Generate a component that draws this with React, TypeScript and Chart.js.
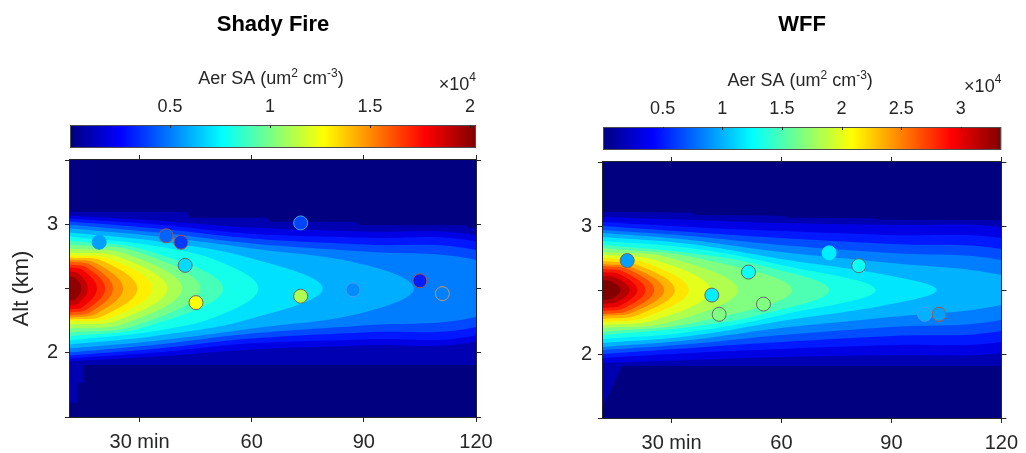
import React, { useEffect, useRef } from 'react';
import { Chart, registerables } from 'chart.js';
Chart.register(...registerables);

// ---------------- shared axis data ----------------
const timeTicks = [30, 60, 90, 120];
const timeTickLabels = ['30 min', '60', '90', '120'];
const altTicks = [1.5, 2, 2.5, 3, 3.5];
const altTickLabels = ['', '2', '', '3', ''];
const altMin = 1.5;
const altMax = 3.5;
const timeMax = 120;

// ---------------- Shady Fire ----------------
const shadyTitle = 'Shady Fire';
const shadyTimeMin = 11.4;
const shadyColorMax = 2.03; // x10^4
const shadyColorTicks = [0.5, 1, 1.5, 2];
const shadyPlumeCenter = 2.5;
const shadyLevels = [0.1, 0.2, 0.3, 0.4, 0.5, 0.6, 0.7, 0.8, 0.9, 1.0, 1.1, 1.2, 1.3, 1.4, 1.5, 1.6, 1.7, 1.8, 1.9, 2.0];
// per contour level: times (min) and half-thickness (km) of the contour above the plume axis, and its tip time
const shadyContourTimes = [
  null,
  [11.4, 35, 60, 90, 120], [11.4, 35, 60, 90, 120], [11.4, 35, 60, 90, 120], [11.4, 35, 60, 90, 120],
  [11.4, 35, 60, 90], [11.4, 35, 60], [11.4, 35, 52], [11.4, 32], [11.4, 29], [11.4, 26.4],
  [11.4, 24.4], [11.4, 22.4], [11.4, 20.4], [11.4, 18.5], [11.4, 17.2], [11.4, 16.1], [11.4, 15], [11.4, 13.8], [11.4, 13],
];
const shadyContourHalf = [
  null,
  [0.567, 0.528, 0.474, 0.443, 0.412], [0.544, 0.497, 0.427, 0.396, 0.365], [0.521, 0.466, 0.389, 0.342, 0.299], [0.497, 0.435, 0.35, 0.287, 0.221],
  [0.466, 0.404, 0.311, 0.186], [0.435, 0.365, 0.233], [0.404, 0.326, 0.202], [0.373, 0.295], [0.342, 0.287], [0.311, 0.268],
  [0.28, 0.245], [0.256, 0.225], [0.241, 0.21], [0.225, 0.194], [0.21, 0.179], [0.186, 0.159], [0.163, 0.14], [0.132, 0.113], [0.093, 0.078],
];
const shadyTipTime = [null, 170, 160, 145, 135, 103.4, 79.0, 61.8, 52.4, 46.3, 41.4, 37.4, 33.4, 29.4, 25.6, 22.9, 20.8, 18.6, 16.2, 14.5];
const shadyEnvTopTime = [11.4, 42.5, 43.5, 64, 65, 88, 89, 117, 118, 122];
const shadyEnvTopAlt = [3.097, 3.097, 3.05, 3.05, 3.02, 3.02, 2.993, 2.993, 2.975, 2.975];
const shadyEnvBotTime = [122, 15.0, 15.0, 13.3, 13.3, 11.4];
const shadyEnvBotAlt = [1.904, 1.904, 1.765, 1.765, 1.61, 1.61];
const shadyObsTime = [19.2, 37.1, 41.1, 42.2, 45.1, 73.1, 73.1, 87.1, 105.0, 111.0];
const shadyObsAlt = [2.86, 2.91, 2.86, 2.68, 2.39, 3.01, 2.44, 2.49, 2.56, 2.46];
const shadyObsSA = [0.57, 0.45, 0.37, 0.69, 1.26, 0.39, 1.11, 0.53, 0.31, 0.51];
const shadyObsGroup = [0, 1, 1, 2, 2, 3, 2, 3, 1, 4];

// ---------------- WFF ----------------
const wffTitle = 'WFF';
const wffTimeMin = 11.3;
const wffColorMax = 3.34; // x10^4
const wffColorTicks = [0.5, 1, 1.5, 2, 2.5, 3];
const wffPlumeCenter = 2.5;
const wffLevels = [0.17, 0.33, 0.5, 0.67, 0.83, 1.0, 1.17, 1.33, 1.5, 1.67, 1.83, 2.0, 2.17, 2.33, 2.5, 2.67, 2.83, 3.0, 3.17, 3.33];
const wffContourTimes = [
  null,
  [11.3, 35, 60, 90, 120], [11.3, 35, 60, 90, 120], [11.3, 35, 60, 90, 120], [11.3, 35, 60, 90, 120],
  [11.3, 35, 60, 90, 120], [11.3, 35, 60, 90], [11.3, 35, 60], [11.3, 35, 55], [11.3, 37], [11.3, 29.7],
  [11.3, 26], [11.3, 23], [11.3, 21.1], [11.3, 19.7], [11.3, 18.3], [11.3, 17.1], [11.3, 16], [11.3, 15], [11.3, 13.7],
];
const wffContourHalf = [
  null,
  [0.57, 0.547, 0.523, 0.508, 0.492], [0.531, 0.492, 0.461, 0.43, 0.406], [0.5, 0.453, 0.406, 0.359, 0.32], [0.469, 0.422, 0.352, 0.289, 0.234],
  [0.445, 0.391, 0.297, 0.211, 0.117], [0.414, 0.359, 0.242, 0.109], [0.383, 0.328, 0.195], [0.352, 0.289, 0.188], [0.328, 0.25], [0.297, 0.25],
  [0.273, 0.23], [0.25, 0.211], [0.227, 0.191], [0.203, 0.172], [0.188, 0.16], [0.164, 0.141], [0.141, 0.121], [0.109, 0.094], [0.078, 0.066],
];
const wffTipTime = [null, 250, 200, 165, 145, 126, 102.4, 85.7, 73.1, 62.9, 48.1, 40.6, 34.7, 30.9, 28.0, 25.3, 22.9, 20.7, 18.6, 16.1];
const wffEnvTopTime = [11.3, 35, 37, 60, 62, 85, 87, 122];
const wffEnvTopAlt = [3.11, 3.105, 3.085, 3.08, 3.065, 3.06, 3.048, 3.045];
const wffEnvBotTime = [122, 16.4, 11.3];
const wffEnvBotAlt = [1.906, 1.906, 1.59];
const wffObsTime = [17.9, 41.0, 43.0, 51.0, 55.1, 73.0, 81.1, 99.1, 103.0];
const wffObsAlt = [2.73, 2.46, 2.31, 2.64, 2.39, 2.79, 2.69, 2.31, 2.31];
const wffObsSA = [0.94, 1.2, 1.67, 1.29, 1.67, 1.2, 1.29, 1.0, 0.94];
const wffObsGroup = [2, 2, 2, 2, 2, 0, 2, 3, 1];

// ---------------- styles ----------------
const INK = '#262626';
const FONT = "'Liberation Sans', Arial, Helvetica, sans-serif";
const edgePalette = ['', 'rgb(176,84,60)', 'rgb(105,105,105)', 'rgb(70,160,235)', 'rgb(205,150,95)'];

function clamp01(v: number) { return Math.max(0, Math.min(1, v)); }
function jetRGB(v: number): [number, number, number] {
  v = clamp01(v);
  const r = clamp01(1.5 - Math.abs(4 * v - 3));
  const g = clamp01(1.5 - Math.abs(4 * v - 2));
  const b = clamp01(1.5 - Math.abs(4 * v - 1));
  return [Math.round(r * 255), Math.round(g * 255), Math.round(b * 255)];
}
function jet(v: number) { const [r, g, b] = jetRGB(v); return `rgb(${r},${g},${b})`; }

type PanelCfg = {
  title: string; timeMin: number; cmax: number; cbTicks: number[]; center: number;
  levels: number[]; cTimes: (number[] | null)[]; cHalf: (number[] | null)[]; tips: (number | null)[];
  envTopT: number[]; envTopA: number[]; envBotT: number[]; envBotA: number[];
  obsT: number[]; obsA: number[]; obsV: number[]; obsG: number[];
  left: number; yW: number; y2W: number; botH: number; areaTop: number; showYTitle: boolean; tickPad: number;
};

const TITLE_H = 46.4; // 12 + 26.4 + 8
const X2_H = 7;

function buildConfig(p: PanelCfg): any {
  const datasets: any[] = [];
  const env = [
    ...p.envTopT.map((t, i) => ({ x: t, y: p.envTopA[i] })),
    ...p.envBotT.map((t, i) => ({ x: t, y: p.envBotA[i] })),
  ];
  datasets.push({
    type: 'line', data: env, fill: 'shape', backgroundColor: jet(p.levels[0] / p.cmax),
    borderWidth: 0, borderColor: 'rgba(0,0,0,0)', pointRadius: 0, tension: 0, order: 1000,
  });
  for (let k = 1; k < p.levels.length; k++) {
    const ts = p.cTimes[k] as number[];
    const hs = p.cHalf[k] as number[];
    const upper = ts.map((t, i) => ({ x: t, y: p.center + hs[i] }));
    const lower = ts.map((t, i) => ({ x: t, y: p.center - hs[i] })).reverse();
    datasets.push({
      type: 'line',
      data: [...upper, { x: p.tips[k] as number, y: p.center }, ...lower],
      fill: 'shape', backgroundColor: jet(p.levels[k] / p.cmax),
      borderWidth: 0, borderColor: 'rgba(0,0,0,0)', pointRadius: 0, tension: 0.4, order: 1000 - k,
    });
  }
  const fills = p.obsV.map(v => jet(v / p.cmax));
  datasets.push({
    type: 'scatter',
    data: p.obsT.map((t, i) => ({ x: t, y: p.obsA[i] })),
    pointRadius: 7, pointHoverRadius: 7,
    pointBackgroundColor: fills,
    pointBorderColor: p.obsG.map((g, i) => (g === 0 ? fills[i] : edgePalette[g])),
    pointBorderWidth: 1, order: 0,
  });

  const grid = { display: true, drawOnChartArea: false, drawTicks: true, tickLength: 5, color: INK, lineWidth: 1 };
  const cbH = p.areaTop - X2_H - TITLE_H;

  const bgPlugin = {
    id: 'navyBg',
    beforeDatasetsDraw(chart: any) {
      const { ctx, chartArea: a } = chart;
      ctx.save();
      ctx.fillStyle = jet(0);
      ctx.fillRect(a.left, a.top, a.right - a.left, a.bottom - a.top);
      ctx.restore();
    },
  };
  const boxPlugin = {
    id: 'boxFrame',
    afterDatasetsDraw(chart: any) {
      const { ctx, chartArea: a } = chart;
      ctx.save();
      ctx.strokeStyle = INK; ctx.lineWidth = 1;
      ctx.strokeRect(Math.round(a.left) - 0.5, Math.round(a.top) - 0.5, Math.round(a.right - a.left) + 1, Math.round(a.bottom - a.top) + 1);
      ctx.restore();
    },
  };
  const cbPlugin = {
    id: 'colorbar',
    afterDraw(chart: any) {
      const { ctx } = chart;
      const cb = chart.scales.cb;
      const x0 = cb.getPixelForValue(0);
      const x1 = cb.getPixelForValue(p.cmax);
      const yb = cb.bottom - 5;
      const yt = yb - 23;
      ctx.save();
      const grad = ctx.createLinearGradient(x0, 0, x1, 0);
      [0, 0.125, 0.375, 0.625, 0.875, 1].forEach(s => grad.addColorStop(s, jet(s)));
      ctx.fillStyle = grad;
      ctx.fillRect(x0, yt, x1 - x0, yb - yt);
      ctx.strokeStyle = '#4d4d4d'; ctx.lineWidth = 1;
      ctx.strokeRect(Math.round(x0) + 0.5, Math.round(yt) + 0.5, Math.round(x1 - x0) - 1, Math.round(yb - yt) - 1);
      ctx.strokeStyle = INK;
      p.cbTicks.forEach(v => {
        const x = Math.round(cb.getPixelForValue(v)) + 0.5;
        ctx.beginPath(); ctx.moveTo(x, yt); ctx.lineTo(x, yt + 3); ctx.stroke();
      });
      const base = `18px ${FONT}`;
      const sup = `12px ${FONT}`;
      const drawRuns = (runs: { t: string; s: boolean }[], x: number, y: number, align: string, raise: number) => {
        const w = runs.map(r => { ctx.font = r.s ? sup : base; return ctx.measureText(r.t).width; });
        const total = w.reduce((a, b) => a + b, 0);
        let cx = align === 'center' ? x - total / 2 : align === 'right' ? x - total : x;
        ctx.textAlign = 'left'; ctx.textBaseline = 'alphabetic'; ctx.fillStyle = INK;
        runs.forEach((r, i) => { ctx.font = r.s ? sup : base; ctx.fillText(r.t, cx, r.s ? y - raise : y); cx += w[i]; });
      };
      const a = chart.chartArea;
      drawRuns([
        { t: 'Aer SA (um', s: false }, { t: '2', s: true }, { t: ' cm', s: false }, { t: '-3', s: true }, { t: ')', s: false },
      ], (a.left + a.right) / 2 - 2, cb.bottom - 69, 'center', 7);
      drawRuns([{ t: '\u00d710', s: false }, { t: '4', s: true }], x1, cb.bottom - 63, 'right', 9);
      ctx.restore();
    },
  };

  return {
    type: 'line',
    data: { datasets },
    plugins: [bgPlugin, boxPlugin, cbPlugin],
    options: {
      animation: false, responsive: false, devicePixelRatio: 1, events: [],
      layout: { padding: 0 },
      elements: { line: { capBezierPoints: false } },
      plugins: {
        legend: { display: false }, tooltip: { enabled: false },
        title: {
          display: true, text: p.title, fullSize: false, color: '#000',
          font: { size: 22, weight: 'bold', family: FONT, lineHeight: 1.2 },
          padding: { top: 12, bottom: 8 },
        },
      },
      scales: {
        x: {
          type: 'linear', position: 'bottom', min: p.timeMin, max: timeMax,
          afterBuildTicks: (s: any) => { s.ticks = timeTicks.map(v => ({ value: v })); },
          afterFit: (s: any) => { s.height = p.botH; },
          ticks: {
            autoSkip: false, maxRotation: 0, padding: 8, color: INK,
            font: { size: 20, family: FONT, lineHeight: 1.2 },
            callback: (_v: any, i: number) => timeTickLabels[i],
          },
          grid, border: { display: false },
        },
        x2: {
          type: 'linear', position: 'top', min: p.timeMin, max: timeMax, weight: 0,
          afterBuildTicks: (s: any) => { s.ticks = timeTicks.map(v => ({ value: v })); },
          afterFit: (s: any) => { s.height = X2_H; },
          ticks: { display: false },
          grid, border: { display: false },
        },
        cb: {
          type: 'linear', position: 'top', min: 0, max: p.cmax, weight: 1,
          afterBuildTicks: (s: any) => { s.ticks = p.cbTicks.map(v => ({ value: v })); },
          afterFit: (s: any) => { s.height = cbH; },
          ticks: {
            autoSkip: false, maxRotation: 0, padding: 27, color: INK,
            font: { size: 18, family: FONT, lineHeight: 1.2 },
            callback: (v: any) => String(v),
          },
          grid: { display: false }, border: { display: false },
        },
        y: {
          type: 'linear', position: 'left', min: altMin, max: altMax,
          afterBuildTicks: (s: any) => { s.ticks = altTicks.map(v => ({ value: v })); },
          afterFit: (s: any) => { s.width = p.yW; },
          ticks: {
            autoSkip: false, padding: p.tickPad, color: INK,
            font: { size: 20, family: FONT, lineHeight: 1.2 },
            callback: (_v: any, i: number) => altTickLabels[i],
          },
          title: {
            display: p.showYTitle, text: 'Alt (km)', color: INK,
            font: { size: 22, family: FONT, lineHeight: 1.2 }, padding: { top: 9, bottom: 0 },
          },
          grid, border: { display: false },
        },
        y2: {
          type: 'linear', position: 'right', min: altMin, max: altMax,
          afterBuildTicks: (s: any) => { s.ticks = altTicks.map(v => ({ value: v })); },
          afterFit: (s: any) => { s.width = p.y2W; },
          ticks: { display: false },
          grid, border: { display: false },
        },
      },
    },
  };
}

const shadyPanel: PanelCfg = {
  title: shadyTitle, timeMin: shadyTimeMin, cmax: shadyColorMax, cbTicks: shadyColorTicks, center: shadyPlumeCenter,
  levels: shadyLevels, cTimes: shadyContourTimes, cHalf: shadyContourHalf, tips: shadyTipTime,
  envTopT: shadyEnvTopTime, envTopA: shadyEnvTopAlt, envBotT: shadyEnvBotTime, envBotA: shadyEnvBotAlt,
  obsT: shadyObsTime, obsA: shadyObsAlt, obsV: shadyObsSA, obsG: shadyObsGroup,
  left: 0, yW: 70, y2W: 37, botH: 36, areaTop: 160, showYTitle: true, tickPad: 7,
};
const wffPanel: PanelCfg = {
  title: wffTitle, timeMin: wffTimeMin, cmax: wffColorMax, cbTicks: wffColorTicks, center: wffPlumeCenter,
  levels: wffLevels, cTimes: wffContourTimes, cHalf: wffContourHalf, tips: wffTipTime,
  envTopT: wffEnvTopTime, envTopA: wffEnvTopAlt, envBotT: wffEnvBotTime, envBotA: wffEnvBotAlt,
  obsT: wffObsTime, obsA: wffObsAlt, obsV: wffObsSA, obsG: wffObsGroup,
  left: 513, yW: 90, y2W: 18, botH: 35, areaTop: 162, showYTitle: false, tickPad: 6,
};

Chart.defaults.font.family = FONT;
Chart.defaults.color = INK;

function Panel({ cfg }: { cfg: PanelCfg }) {
  const ref = useRef<HTMLCanvasElement>(null);
  useEffect(() => {
    const chart = new Chart(ref.current as HTMLCanvasElement, buildConfig(cfg));
    return () => chart.destroy();
  }, [cfg]);
  return (
    <canvas ref={ref} width={513} height={453}
      style={{ position: 'absolute', left: cfg.left, top: 0, width: 513, height: 453 }} />
  );
}

export default function App() {
  return (
    <div style={{ position: 'absolute', left: 0, top: 0, width: 1026, height: 453, background: '#fff', overflow: 'hidden' }}>
      <Panel cfg={shadyPanel} />
      <Panel cfg={wffPanel} />
    </div>
  );
}
